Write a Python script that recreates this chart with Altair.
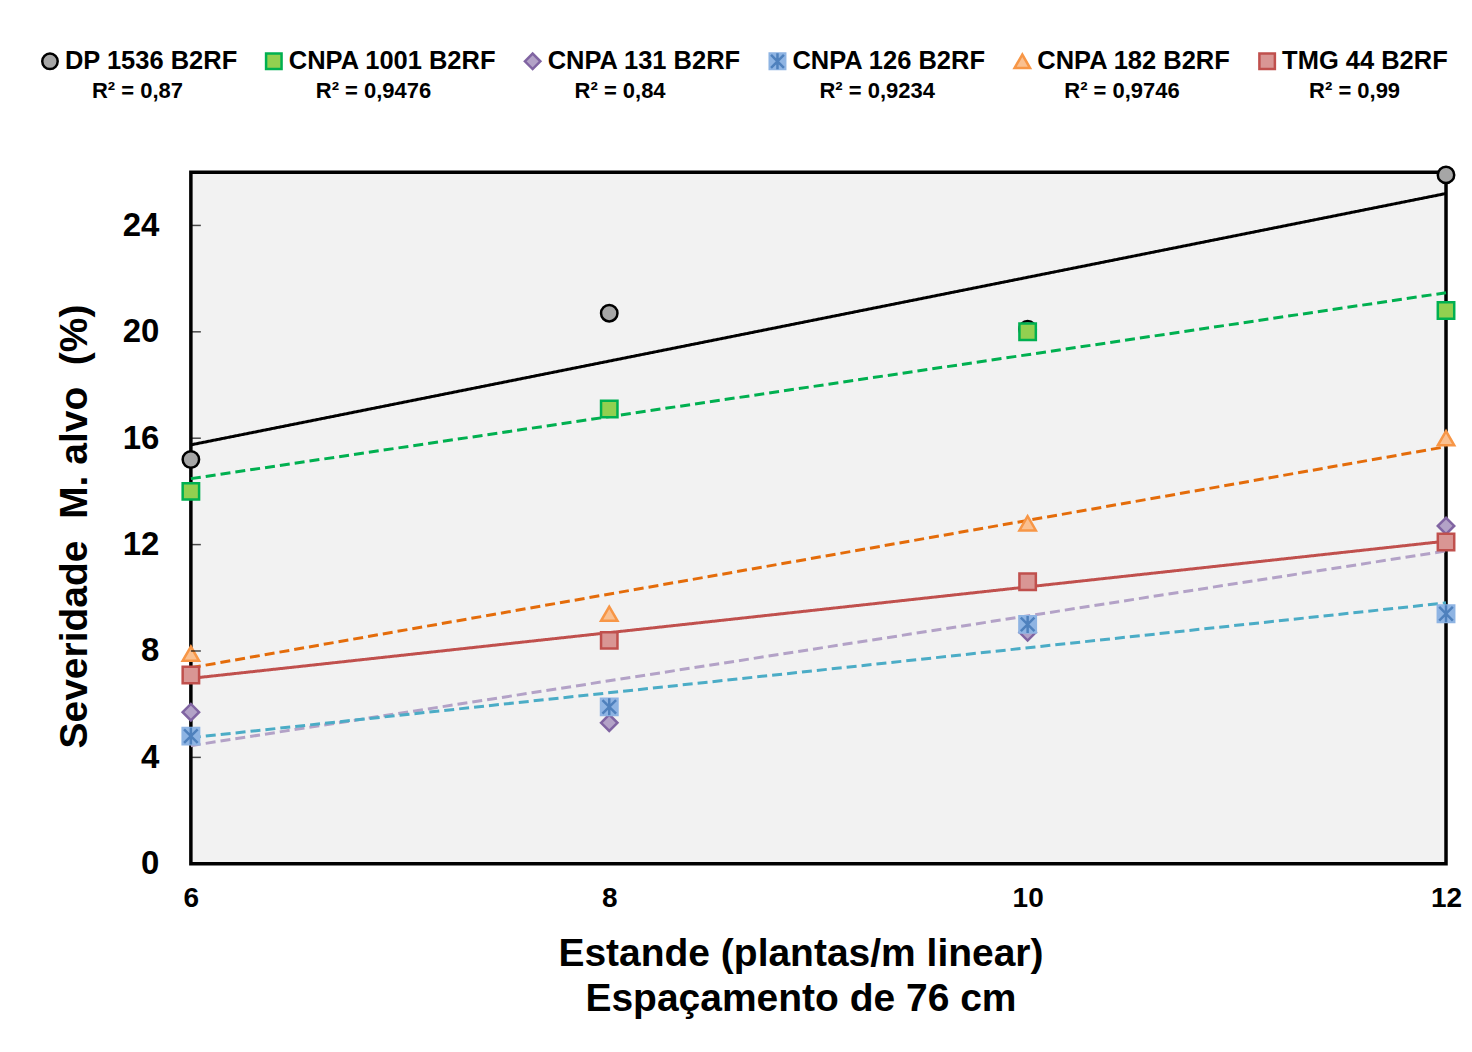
import altair as alt
import pandas as pd

# ---------------- data ----------------
series = ["DP 1536 B2RF", "CNPA 1001 B2RF", "CNPA 131 B2RF",
          "CNPA 126 B2RF", "CNPA 182 B2RF", "TMG 44 B2RF"]
r2_labels = ["R² = 0,87", "R² = 0,9476", "R² = 0,84",
             "R² = 0,9234", "R² = 0,9746", "R² = 0,99"]
estande = [6, 8, 10, 12]
dp1536 = [15.2, 20.7, 20.1, 25.9]
cnpa1001 = [14.0, 17.1, 20.0, 20.8]
cnpa131 = [5.7, 5.3, 8.7, 12.7]
cnpa126 = [4.8, 5.9, 9.0, 9.4]
cnpa182 = [7.9, 9.4, 12.8, 16.0]
tmg44 = [7.1, 8.4, 10.6, 12.1]
y_ticks = [0, 4, 8, 12, 16, 20, 24]
x_ticks = [6, 8, 10, 12]

# ---------------- styles ----------------
shapes = ["circle", "square", "diamond", "square", "triangle-up", "square"]
fills = ["#A6A6A6", "#92D050", "#B3A2C7", "#8EB4E3", "#FAC090", "#D99694"]
strokes = ["#000000", "#00B050", "#8064A2", "#8EB4E3", "#F79646", "#C0504D"]
line_colors = ["#000000", "#00B050", "#B3A2C7", "#4BACC6", "#E46C0A", "#C0504D"]
dashes = [[1, 0], [10, 5], [10, 5], [10, 5], [10, 5], [1, 0]]
asterisk = "M-0.8,-0.8L0.8,0.8M0.8,-0.8L-0.8,0.8M0,-1L0,1"
FONT = "Liberation Sans"
LEG_SHIFT = -142

rows = []
for name, vals in zip(series, [dp1536, cnpa1001, cnpa131, cnpa126, cnpa182, tmg44]):
    for xv, yv in zip(estande, vals):
        rows.append({"series": name, "estande": xv, "sev": yv})
df = pd.DataFrame(rows)

x_enc = alt.X("estande:Q",
              scale=alt.Scale(domain=[6, 12], nice=False, zero=False),
              axis=alt.Axis(values=x_ticks, format="d", grid=False, domain=False, ticks=False,
                            labelFlush=False, labelPadding=21,
                            labelFontSize=28, labelFontWeight="bold", labelColor="black",
                            title=["Estande (plantas/m linear)", "Espaçamento de 76 cm"],
                            titleFontSize=39, titleFontWeight="bold", titleColor="black",
                            titleLineHeight=45, titlePadding=22, titleX=610))
y_enc = alt.Y("sev:Q",
              scale=alt.Scale(domain=[0, 26], nice=False),
              axis=alt.Axis(values=y_ticks, grid=False, domain=False, ticks=False,
                            labelPadding=32,
                            labelFontSize=33, labelFontWeight="bold", labelColor="black",
                            title="Severidade\u00a0\u00a0M. alvo\u00a0\u00a0(%)",
                            titleFontSize=39, titleFontWeight="bold", titleColor="black",
                            titlePadding=28, titleY=354))

lines = alt.Chart(df).transform_regression(
    "estande", "sev", groupby=["series"], extent=[6, 12]
).mark_line(strokeWidth=3).encode(
    x=x_enc, y=y_enc,
    color=alt.Color("series:N", scale=alt.Scale(domain=series, range=line_colors), legend=None),
    strokeDash=alt.StrokeDash("series:N", scale=alt.Scale(domain=series, range=dashes), legend=None),
)

pts = alt.Chart(df).mark_point(filled=True, opacity=1, size=270, strokeWidth=2.5).encode(
    x=x_enc, y=y_enc,
    shape=alt.Shape("series:N", scale=alt.Scale(domain=series, range=shapes), legend=None),
    fill=alt.Fill("series:N", scale=alt.Scale(domain=series, range=fills), legend=None),
    stroke=alt.Stroke("series:N", scale=alt.Scale(domain=series, range=strokes), legend=None),
)

ast = alt.Chart(df).transform_filter(
    alt.datum.series == series[3]
).mark_point(shape=asterisk, filled=False, size=290, strokeWidth=2.5,
             color="#4F81BD", opacity=1).encode(x=x_enc, y=y_enc)

ticks = alt.Chart(pd.DataFrame({"sev": y_ticks})).mark_tick(
    orient="horizontal", size=10, thickness=1.5, color="black", xOffset=5
).encode(x=alt.datum(6), y=y_enc)

main = alt.layer(lines, pts, ast, ticks).properties(
    width=1256, height=692,
    view=alt.ViewBackground(fill="#F2F2F2", stroke="black", strokeWidth=3.5),
)

# ---------------- legend row ----------------
def legend_entry(i):
    d = pd.DataFrame({"series": [series[i]], "r2": [r2_labels[i]]})
    base = alt.Chart(d)
    lx = alt.X("series:N", axis=None)
    ly = alt.Y("row:N", axis=None,
               scale=alt.Scale(type="point", domain=["name", "r2"], padding=0))
    layers = [
        base.transform_calculate(row="'name'").mark_point(
            filled=True, opacity=1, shape=shapes[i], fill=fills[i], stroke=strokes[i],
            size=240, strokeWidth=2.5, xOffset=LEG_SHIFT).encode(x=lx, y=ly)
    ]
    if i == 3:
        layers.append(base.transform_calculate(row="'name'").mark_point(
            filled=False, opacity=1, shape=asterisk, color="#4F81BD",
            size=260, strokeWidth=2.5, xOffset=LEG_SHIFT).encode(x=lx, y=ly))
    layers.append(base.transform_calculate(row="'name'").mark_text(
        align="left", baseline="middle", dx=15, xOffset=LEG_SHIFT, fontSize=25.5,
        fontWeight="bold", color="black").encode(x=lx, y=ly, text="series:N"))
    layers.append(base.transform_calculate(row="'r2'").mark_text(
        align="left", baseline="middle", dx=42, xOffset=LEG_SHIFT, fontSize=22,
        fontWeight="bold", color="black").encode(x=lx, y=ly, text="r2:N"))
    return alt.layer(*layers).properties(
        width=2, height=30,
        view=alt.ViewBackground(stroke="transparent", fill="transparent"))

legend_row = alt.hconcat(*[legend_entry(i) for i in range(6)], spacing=23)

chart = alt.vconcat(legend_row, main, spacing=57).properties(
    padding={"left": 29, "top": 39, "right": 0, "bottom": 5},
    background="white",
).configure_view(strokeWidth=0).configure_axis(
    labelFont=FONT, titleFont=FONT
).configure_text(font=FONT)

chart.save("out.html", embed_options={"renderer": "svg", "actions": False})
